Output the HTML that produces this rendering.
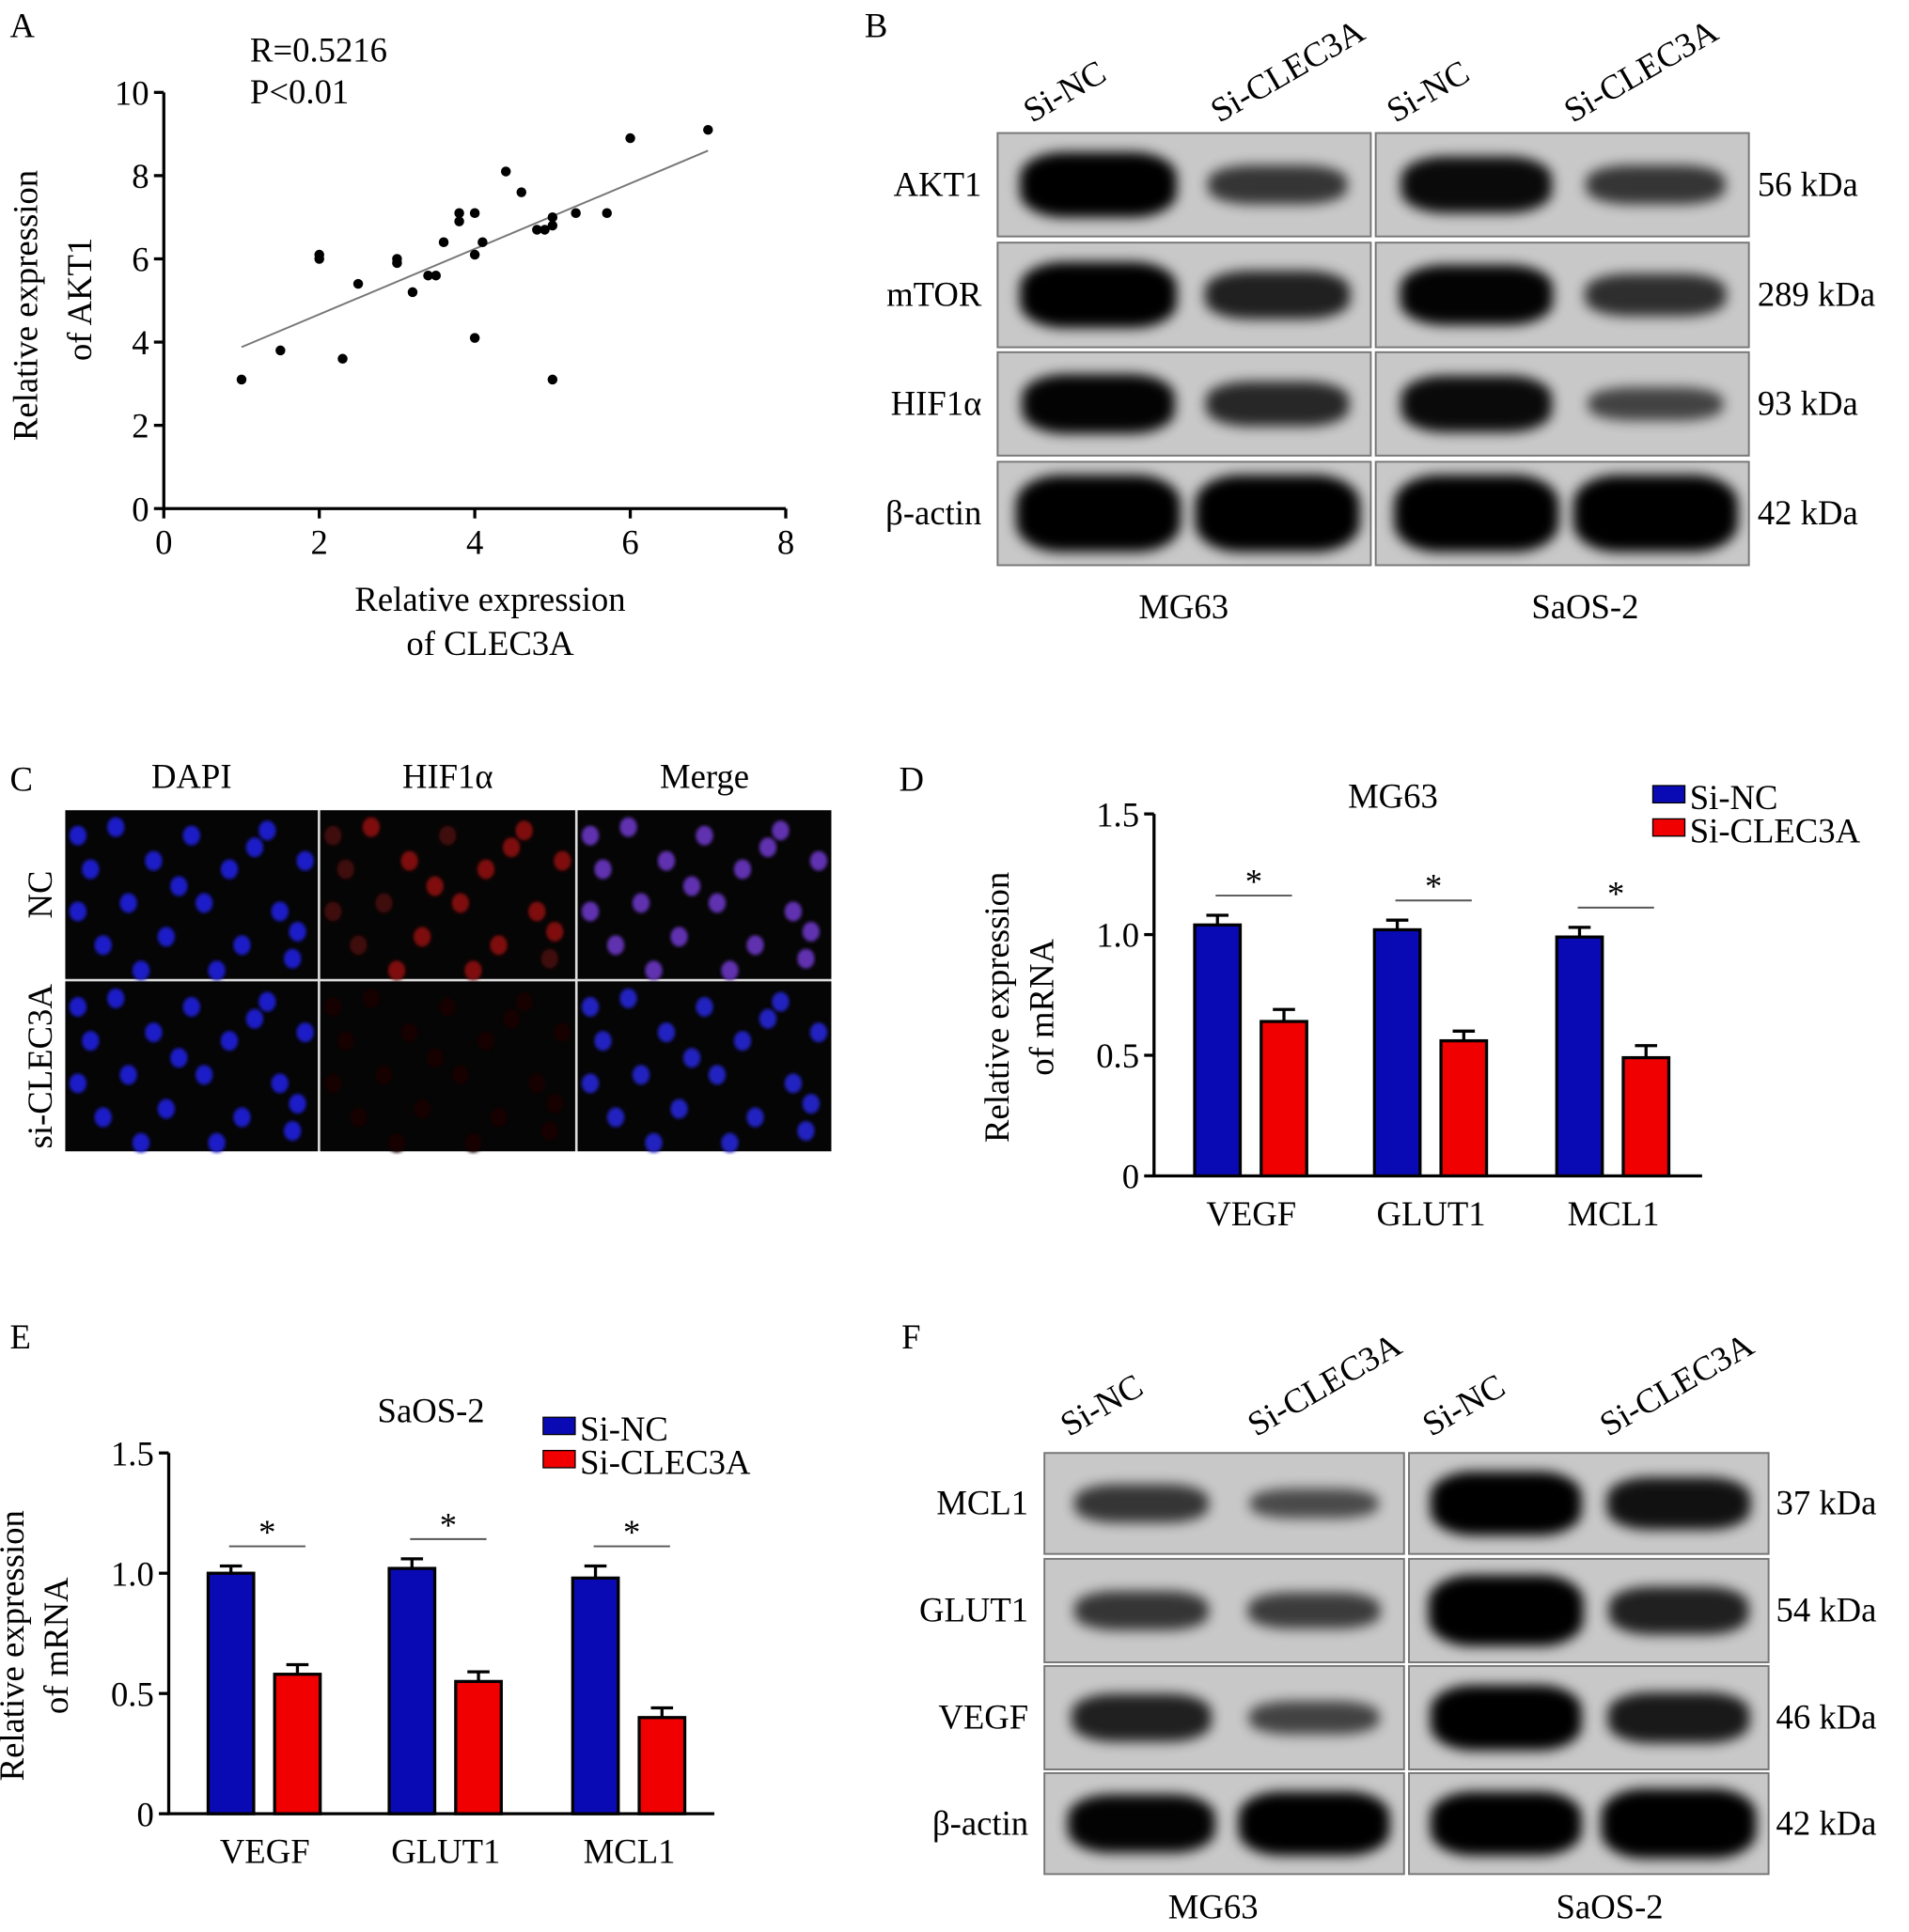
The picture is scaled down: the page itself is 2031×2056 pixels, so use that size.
<!DOCTYPE html>
<html><head><meta charset="utf-8"><style>
html,body{margin:0;padding:0;background:#fff;}
svg{display:block;font-family:"Liberation Serif",serif;}
</style></head><body>
<svg id="fig" width="2031" height="2056" viewBox="0 0 1550 1569" xmlns="http://www.w3.org/2000/svg">
<defs>
<filter id="blur" x="-20%" y="-50%" width="140%" height="200%"><feGaussianBlur stdDeviation="5"/></filter>
<filter id="blur2"><feGaussianBlur stdDeviation="1.5"/></filter>
</defs>
<g id="pA"></g>
<g id="pB"></g>
<g id="pC"></g>
<g id="pD"></g>
<g id="pE"></g>
<g id="pF"></g>
</svg>
<script>
const NS="http://www.w3.org/2000/svg";
// Panel A data
const scatterX=[1,1.5,2,2,2.3,2.5,3,3,3.2,3.4,3.5,3.6,3.8,3.8,4,4,4,4.1,4.4,4.6,4.8,4.9,5,5,5,5.3,5.7,6,7];
const scatterY=[3.1,3.8,6.1,6,3.6,5.4,6,5.9,5.2,5.6,5.6,6.4,7.1,6.9,7.1,6.1,4.1,6.4,8.1,7.6,6.7,6.7,7,6.8,3.1,7.1,7.1,8.9,9.1];
const fitX=[1,7];
const fitY=[3.88,8.6];
const aXTicks=[0,2,4,6,8];
const aYTicks=[0,2,4,6,8,10];
// Panel D/E data
const barCats=["VEGF","GLUT1","MCL1"];
const dNC=[1.04,1.02,0.99];
const dKD=[0.64,0.56,0.49];
const dNCerr=[0.04,0.04,0.04];
const dKDerr=[0.05,0.04,0.05];
const eNC=[1.0,1.02,0.98];
const eKD=[0.58,0.55,0.40];
const eNCerr=[0.03,0.04,0.05];
const eKDerr=[0.04,0.04,0.04];
const barTicks=[0,0.5,1.0,1.5];
const barTickLabels=["0","0.5","1.0","1.5"];
const FS=28;

function el(parent,tag,attrs,text){const e=document.createElementNS(NS,tag);for(const k in attrs)e.setAttribute(k,attrs[k]);if(text!==undefined)e.textContent=text;parent.appendChild(e);return e;}

// ---------- Panel A ----------
(function(){
const g=document.getElementById('pA');
const x0=133,x1=638,y0=413,y1=75;
const sx=v=>x0+(v-0)/8*(x1-x0), sy=v=>y0-(v/10)*(y0-y1);
let t=el(g,'text',{x:8,y:30,'font-size':FS},'A');
t=el(g,'text',{x:203,y:50,'font-size':FS},'R=0.5216');
t=el(g,'text',{x:203,y:84,'font-size':FS},'P<0.01');
let ax=el(g,'path',{d:`M${x0} ${y1}V${y0}H${x1}`,stroke:'#000','stroke-width':2.5,fill:'none'});
aXTicks.forEach(v=>{el(g,'line',{x1:sx(v),x2:sx(v),y1:y0,y2:y0+8,stroke:'#000','stroke-width':2.5});
 const tt=el(g,'text',{x:sx(v),y:y0+37,'font-size':FS,'text-anchor':'middle'},String(v));});
aYTicks.forEach(v=>{el(g,'line',{x1:x0-8,x2:x0,y1:sy(v),y2:sy(v),stroke:'#000','stroke-width':2.5});
 const tt=el(g,'text',{x:x0-12,y:sy(v)+10,'font-size':FS,'text-anchor':'end'},String(v));});
const ln=el(g,'line',{x1:sx(fitX[0]),y1:sy(fitY[0]),x2:sx(fitX[1]),y2:sy(fitY[1]),stroke:'#777','stroke-width':1.5});

scatterX.forEach((v,i)=>{const c=el(g,'circle',{cx:sx(v),cy:sy(scatterY[i]),r:4,fill:'#000'});
 });
t=el(g,'text',{x:398,y:496,'font-size':FS,'text-anchor':'middle'},'Relative expression');
el(g,'text',{x:398,y:532,'font-size':FS,'text-anchor':'middle'},'of CLEC3A');
t=el(g,'text',{transform:'translate(30,248) rotate(-90)','font-size':FS,'text-anchor':'middle'},'Relative expression');
el(g,'text',{transform:'translate(74,243) rotate(-90)','font-size':FS,'text-anchor':'middle'},'of AKT1');
})();

// ---------- Blot helper ----------
function blot(g,boxes,rows,bands,labels,kda,colLabels,colX,colY,cellLabels,cellX,cellY,letter,lx,ly,labelX,kdaX){
 let t=el(g,'text',{x:lx,y:ly,'font-size':FS},letter);
 boxes.forEach((b,bi)=>rows.forEach((r,ri)=>{
  const rc=el(g,'rect',{x:b[0],y:r[0],width:b[1]-b[0],height:r[1]-r[0],fill:'#c8c8c8',stroke:'#777','stroke-width':1.5});
  
  const w=b[1]-b[0],cy=(r[0]+r[1])/2,h=r[1]-r[0];
  [0.27,0.75].forEach((f,li)=>{const s=bands[ri][bi*2+li];
   const e=el(g,'rect',{x:b[0]+w*f-w*0.21*(0.75+0.25*s),y:cy-(h*0.28*s+3),width:2*w*0.21*(0.75+0.25*s),height:2*(h*0.28*s+3),rx:w*0.12,ry:h*0.2*s+3,fill:'#000',opacity:Math.min(1,0.35+0.7*s),filter:'url(#blur)'});
   });
 }));
 rows.forEach((r,ri)=>{const cy=(r[0]+r[1])/2;
  let a=el(g,'text',{x:labelX,y:cy+9,'font-size':FS,'text-anchor':'end'},labels[ri]);
  a=el(g,'text',{x:kdaX,y:cy+9,'font-size':FS},kda[ri]);});
 colLabels.forEach((c,i)=>{const a=el(g,'text',{transform:`translate(${colX[i]},${colY}) rotate(-30)`,'font-size':FS},c);});
 cellLabels.forEach((c,i)=>{const a=el(g,'text',{x:cellX[i],y:cellY,'font-size':FS,'text-anchor':'middle'},c);});
}
blot(document.getElementById('pB'),[[810,1113],[1117,1420]],[[108,192],[197,282],[286,370],[375,459]],
 [[1,0.55,0.85,0.55],[1,0.7,0.9,0.6],[0.9,0.65,0.85,0.45],[1.2,1.2,1.2,1.2]],
 ['AKT1','mTOR','HIF1α','β-actin'],['56 kDa','289 kDa','93 kDa','42 kDa'],
 ['Si-NC','Si-CLEC3A','Si-NC','Si-CLEC3A'],[838,990,1133,1277],100,['MG63','SaOS-2'],[961,1287],502,'B',702,30,797,1427);
blot(document.getElementById('pF'),[[848,1140],[1144,1436]],[[1180,1262],[1266,1350],[1353,1437],[1440,1522]],
 [[0.55,0.4,1,0.8],[0.55,0.5,1.1,0.7],[0.7,0.45,1,0.75],[0.9,1,1,1.1]],
 ['MCL1','GLUT1','VEGF','β-actin'],['37 kDa','54  kDa','46 kDa','42 kDa'],
 ['Si-NC','Si-CLEC3A','Si-NC','Si-CLEC3A'],[868,1020,1162,1306],1167,['MG63','SaOS-2'],[985,1307],1558,'F',732,1095,835,1442);

// ---------- Panel C ----------
(function(){
const g=document.getElementById('pC');
let t=el(g,'text',{x:8,y:642,'font-size':FS},'C');
const cols=[[53,258],[260,467],[469,675]],rows=[[658,795],[797,935]];
['DAPI','HIF1α','Merge'].forEach((s,i)=>{const a=el(g,'text',{x:(cols[i][0]+cols[i][1])/2,y:640,'font-size':FS,'text-anchor':'middle'},s);});
['NC','si-CLEC3A'].forEach((s,i)=>{const a=el(g,'text',{transform:`translate(42,${(rows[i][0]+rows[i][1])/2}) rotate(-90)`,'font-size':FS,'text-anchor':'middle'},s);});
el(g,'rect',{x:53,y:658,width:622,height:277,fill:'#ddd'});
const nuc=[[0.2,0.1],[0.5,0.15],[0.8,0.12],[0.95,0.3],[0.1,0.35],[0.35,0.3],[0.65,0.35],[0.25,0.55],[0.55,0.55],[0.85,0.6],[0.15,0.8],[0.4,0.75],[0.7,0.8],[0.9,0.88],[0.3,0.95],[0.6,0.95],[0.05,0.6],[0.45,0.45],[0.75,0.22],[0.05,0.15],[0.92,0.72]];
rows.forEach((r,ri)=>cols.forEach((c,ci)=>{
 const rc=el(g,'rect',{x:c[0],y:r[0],width:c[1]-c[0],height:r[1]-r[0],fill:'#050505'});
 nuc.forEach((p,k)=>{const x=c[0]+p[0]*(c[1]-c[0]),y=r[0]+p[1]*(r[1]-r[0]);let col;
  if(ci===0)col='#1c1cc8';else if(ci===1)col=ri===0?'#801010':'#140404';else col=ri===0?'#6030b0':'#2020c0';
  if(ci===1&&ri===0&&k%3===1)col='#400808';
  el(g,'ellipse',{cx:x,cy:y,rx:7,ry:8,fill:col,filter:'url(#blur2)'});});
}));
})();

// ---------- Bar chart helper ----------
function bars(g,nc,kd,ncE,kdE,x0,x1,yb,yt,centers,title,tx,ty,letter,lx,ly,legX,legY){
 const sy=v=>yb-v/1.5*(yb-yt);
 let t=el(g,'text',{x:lx,y:ly,'font-size':FS},letter);
 t=el(g,'text',{x:tx,y:ty,'font-size':FS,'text-anchor':'middle'},title);
 const ax=el(g,'path',{d:`M${x0} ${yt}V${yb}H${x1}`,stroke:'#000','stroke-width':2.5,fill:'none'});
 barTicks.forEach((v,i)=>{el(g,'line',{x1:x0-8,x2:x0,y1:sy(v),y2:sy(v),stroke:'#000','stroke-width':2.5});
  const a=el(g,'text',{x:x0-12,y:sy(v)+10,'font-size':FS,'text-anchor':'end'},barTickLabels[i]);});
 const bw=37;
 barCats.forEach((c,i)=>{const cx=centers[i];
  [[nc[i],ncE[i],'#0a0ab4',cx-46],[kd[i],kdE[i],'#f00000',cx+8]].forEach((b,k)=>{
   el(g,'line',{x1:b[3]+bw/2,x2:b[3]+bw/2,y1:sy(b[0]),y2:sy(b[0]+b[1]),stroke:'#000','stroke-width':2.5});
   el(g,'line',{x1:b[3]+bw/2-9,x2:b[3]+bw/2+9,y1:sy(b[0]+b[1]),y2:sy(b[0]+b[1]),stroke:'#000','stroke-width':2.5});
   const r=el(g,'rect',{x:b[3],y:sy(b[0]),width:bw,height:yb-sy(b[0]),fill:b[2],stroke:'#000','stroke-width':2.5});
   });
  const top=sy(Math.max(nc[i]+ncE[i],kd[i]+kdE[i]))-16;
  el(g,'line',{x1:cx-29,x2:cx+33,y1:top,y2:top,stroke:'#555','stroke-width':1.5});
  const s=el(g,'text',{x:cx+2,y:top-2,'font-size':FS,'text-anchor':'middle'},'*');
  const a=el(g,'text',{x:cx,y:yb+40,'font-size':FS,'text-anchor':'middle'},c);
 });
 t=el(g,'text',{transform:`translate(${x0-118},${(yb+yt)/2+10}) rotate(-90)`,'font-size':FS,'text-anchor':'middle'},'Relative expression');
 el(g,'text',{transform:`translate(${x0-82},${(yb+yt)/2+10}) rotate(-90)`,'font-size':FS,'text-anchor':'middle'},'of mRNA');
 [['Si-NC','#0a0ab4'],['Si-CLEC3A','#f00000']].forEach((l,i)=>{
  const r=el(g,'rect',{x:legX,y:legY+i*27-12,width:26,height:14,fill:l[1],stroke:'#000','stroke-width':1});
  const a=el(g,'text',{x:legX+30,y:legY+i*27+7,'font-size':FS},l[0]);});
}
bars(document.getElementById('pD'),dNC,dKD,dNCerr,dKDerr,937,1382,955,661,[1016,1162,1310],'MG63',1131,656,'D',730,642,1342,650);
bars(document.getElementById('pE'),eNC,eKD,eNCerr,eKDerr,137,580,1473,1180,[215,362,511],'SaOS-2',350,1155,'E',8,1095,441,1163);
</script>
</body></html>
